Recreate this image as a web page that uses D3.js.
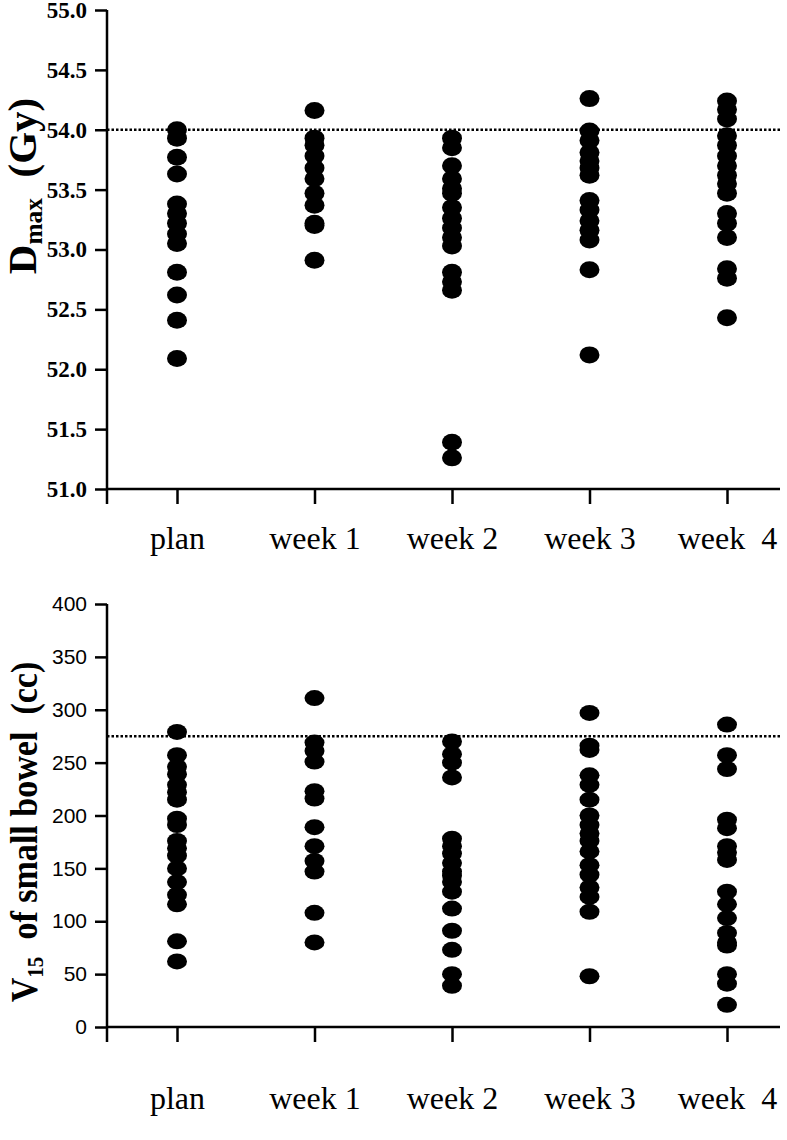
<!DOCTYPE html>
<html>
<head>
<meta charset="utf-8">
<script src="https://cdn.jsdelivr.net/npm/d3@7"></script>
<style>
  body { margin: 0; background: #fff; }
  .axis path, .axis line { stroke: #000; stroke-width: 2.5; }
</style>
</head>
<body>
<div id="chart"></div>
<script>
// categories and tick labels
var categories = ["plan", "week 1", "week 2", "week 3", "week 4"];
var catLabels = ["plan", "week 1", "week 2", "week 3", "week  4"];
var dmaxTicks = [51.0, 51.5, 52.0, 52.5, 53.0, 53.5, 54.0, 54.5, 55.0];
var v15Ticks = [0, 50, 100, 150, 200, 250, 300, 350, 400];
var dmaxLimit = 54.0;
var v15Limit = 275;

// Dmax (Gy) per patient
var dmaxPlan = [54.0, 53.93, 53.77, 53.63, 53.38, 53.3, 53.22, 53.13, 53.05, 52.81, 52.62, 52.41, 52.09];
var dmaxWeek1 = [54.16, 53.93, 53.87, 53.78, 53.68, 53.59, 53.47, 53.37, 53.22, 53.2, 52.91];
var dmaxWeek2 = [53.93, 53.85, 53.7, 53.59, 53.51, 53.47, 53.35, 53.26, 53.18, 53.1, 53.03, 52.81, 52.73, 52.66, 51.39, 51.26];
var dmaxWeek3 = [54.26, 53.99, 53.91, 53.81, 53.74, 53.68, 53.62, 53.41, 53.33, 53.24, 53.16, 53.08, 52.83, 52.12];
var dmaxWeek4 = [54.24, 54.17, 54.09, 53.95, 53.87, 53.78, 53.7, 53.62, 53.55, 53.47, 53.3, 53.22, 53.1, 52.84, 52.76, 52.43];

// V15 of small bowel (cc)
var v15Plan = [279, 257, 246, 239, 229, 222, 215, 197, 191, 176, 169, 162, 150, 137, 125, 116, 81, 62];
var v15Week1 = [311, 269, 261, 251, 223, 216, 189, 171, 157, 147, 108, 80];
var v15Week2 = [270, 258, 250, 236, 178, 171, 164, 155, 147, 143, 137, 128, 112, 91, 73, 50, 39];
var v15Week3 = [297, 266, 262, 238, 229, 215, 200, 191, 183, 176, 166, 153, 144, 132, 123, 109, 48];
var v15Week4 = [286, 257, 244, 196, 188, 171, 165, 158, 128, 116, 103, 89, 80, 77, 50, 41, 21];

var W = 787, H = 1140;
var svg = d3.select("#chart").append("svg")
  .attr("width", W)
  .attr("height", H);

var axisLeftX = 107, axisRightX = 780;
var serif = "'Liberation Serif', 'Times New Roman', serif";

var x = d3.scalePoint()
  .domain(categories)
  .range([177, 727]);

function drawPanel(opt) {
  var y = d3.scaleLinear().domain(opt.domain).range([opt.bottom, opt.top]);
  var g = svg.append("g");

  // points
  opt.series.forEach(function(vals, i) {
    g.selectAll(null)
      .data(vals)
      .enter()
      .append("ellipse")
      .attr("cx", x(categories[i]))
      .attr("cy", d => y(d))
      .attr("rx", 10)
      .attr("ry", opt.dotRy)
      .attr("fill", "#000");
  });

  // reference line
  g.append("line")
    .attr("x1", axisLeftX)
    .attr("x2", axisRightX)
    .attr("y1", y(opt.limit))
    .attr("y2", y(opt.limit))
    .attr("stroke", "#000")
    .attr("stroke-width", 2.5)
    .attr("stroke-dasharray", "2.5,2");

  // y axis
  var yAxis = g.append("g")
    .attr("class", "axis")
    .attr("transform", `translate(${axisLeftX},0)`)
    .call(d3.axisLeft(y).tickValues(opt.ticks).tickFormat(opt.fmt).tickSize(12).tickSizeOuter(0).tickPadding(8));
  yAxis.select(".domain").remove();
  yAxis.selectAll("text")
    .attr("font-family", opt.tickFont)
    .attr("font-weight", opt.tickWeight)
    .attr("font-size", opt.tickSize)
    .attr("fill", "#000");
  g.append("line")
    .attr("x1", axisLeftX).attr("x2", axisLeftX)
    .attr("y1", opt.top).attr("y2", opt.bottom + 15)
    .attr("stroke", "#000").attr("stroke-width", 2.5);

  // x axis
  var xAxis = g.append("g")
    .attr("class", "axis")
    .attr("transform", `translate(0,${opt.bottom})`)
    .call(d3.axisBottom(x).tickSize(15).tickSizeOuter(0).tickPadding(opt.xPad));
  xAxis.select(".domain").remove();
  xAxis.selectAll("text")
    .text((d, i) => catLabels[i])
    .attr("font-family", serif)
    .attr("font-size", 32)
    .attr("fill", "#000")
    .style("white-space", "pre");
  g.append("line")
    .attr("x1", axisLeftX - 1).attr("x2", axisRightX)
    .attr("y1", opt.bottom).attr("y2", opt.bottom)
    .attr("stroke", "#000").attr("stroke-width", 2.5);

  // y label
  var lab = g.append("text")
    .attr("transform", `translate(${opt.labelX},${opt.labelY}) rotate(-90) scale(${opt.labelScale},1)`)
    .attr("text-anchor", "middle")
    .attr("font-family", serif)
    .attr("font-weight", "bold")
    .attr("font-size", opt.labelSize)
    .attr("fill", "#000")
    .style("white-space", "pre");
  lab.append("tspan").text(opt.labelMain);
  lab.append("tspan").attr("font-size", opt.labelSize * 0.62).attr("dy", 6).text(opt.labelSub);
  lab.append("tspan").attr("dy", -6).text(opt.labelRest);
}

drawPanel({
  domain: [51, 55], top: 10, bottom: 489, dotRy: 8.5,
  series: [dmaxPlan, dmaxWeek1, dmaxWeek2, dmaxWeek3, dmaxWeek4],
  limit: dmaxLimit, ticks: dmaxTicks, fmt: d3.format(".1f"),
  tickFont: serif, tickWeight: "bold", tickSize: 23,
  xPad: 22,
  labelX: 36, labelY: 186, labelSize: 41, labelScale: 1,
  labelMain: "D", labelSub: "max", labelRest: "  (Gy)"
});

drawPanel({
  domain: [0, 400], top: 604, bottom: 1027, dotRy: 8,
  series: [v15Plan, v15Week1, v15Week2, v15Week3, v15Week4],
  limit: v15Limit, ticks: v15Ticks, fmt: d3.format("d"),
  tickFont: "'Liberation Sans', Arial, sans-serif", tickWeight: "normal", tickSize: 21,
  xPad: 44,
  labelX: 37, labelY: 832, labelSize: 37, labelScale: 0.92,
  labelMain: "V", labelSub: "15", labelRest: "  of small bowel  (cc)"
});
</script>
</body>
</html>
